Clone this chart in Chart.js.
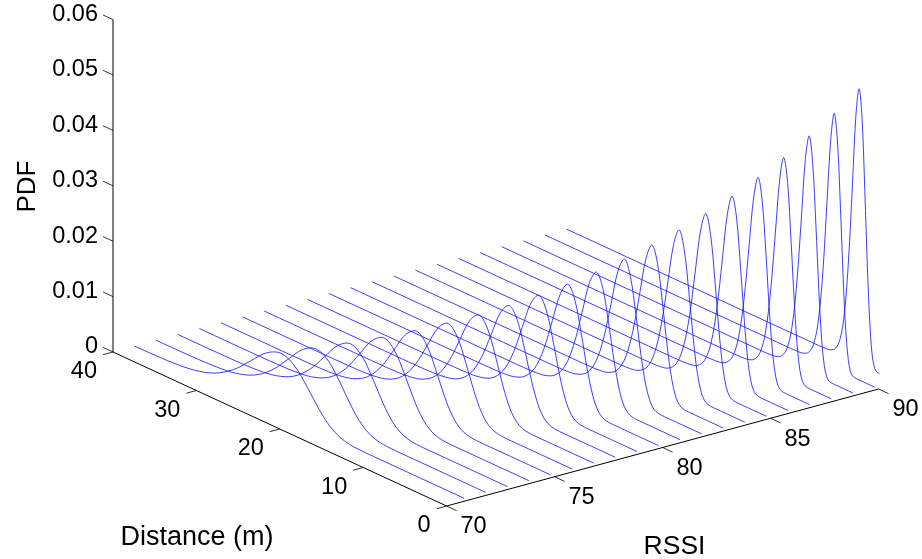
<!DOCTYPE html>
<html>
<head>
<meta charset="utf-8">
<title>PDF of distance per RSSI</title>
<script src="https://cdn.jsdelivr.net/npm/chart.js@4"></script>
<style>
  html, body { margin: 0; padding: 0; background: #fff; }
  #wrap { width: 922px; height: 559px; }
</style>
</head>
<body>
<div id="wrap"><canvas id="chart" width="922" height="559"></canvas></div>
<script>
// values
const pdfTicks = [0, 0.01, 0.02, 0.03, 0.04, 0.05, 0.06];
const pdfTickLabels = ['0', '0.01', '0.02', '0.03', '0.04', '0.05', '0.06'];
const distanceTicks = [0, 10, 20, 30, 40];
const rssiTicks = [70, 75, 80, 85, 90];
const rssiLevels = [71, 72, 73, 74, 75, 76, 77, 78, 79, 80, 81, 82, 83, 84, 85, 86, 87, 88, 89, 90, 91];
const distances = [40, 38.18, 35.38, 32.79, 30.4, 28.18, 26.12, 24.22, 22.45, 20.81, 19.29, 17.88, 16.58, 15.37, 14.25, 13.21, 12.24, 11.35, 10.52, 9.75, 9.04, 8.38, 7.77, 7.2, 6.67, 6.19, 5.73, 5.32, 4.93, 4.57, 4.24, 3.93, 3.64, 3.38, 3.13, 2.9, 2.69, 2.49, 0.5];

const pdf71 = [0.00001,0.00004,0.00019,0.00066,0.00181,0.00397,0.00696,0.00975,0.01091,0.00975,0.00696,0.00397,0.00181,0.00066,0.00019,0.00004,0.00001,0,0,0,0,0,0,0,0,0,0,0,0,0,0,0,0,0,0,0,0,0,0];
const pdf72 = [0,0.00001,0.00005,0.00021,0.00071,0.00195,0.00429,0.00751,0.01052,0.01177,0.01052,0.00751,0.00429,0.00195,0.00071,0.00021,0.00005,0.00001,0,0,0,0,0,0,0,0,0,0,0,0,0,0,0,0,0,0,0,0,0];
const pdf73 = [0,0,0.00001,0.00005,0.00022,0.00077,0.00211,0.00463,0.00811,0.01135,0.0127,0.01135,0.00811,0.00463,0.00211,0.00077,0.00022,0.00005,0.00001,0,0,0,0,0,0,0,0,0,0,0,0,0,0,0,0,0,0,0,0];
const pdf74 = [0,0,0,0.00001,0.00006,0.00024,0.00083,0.00227,0.00499,0.00874,0.01225,0.0137,0.01225,0.00874,0.00499,0.00227,0.00083,0.00024,0.00006,0.00001,0,0,0,0,0,0,0,0,0,0,0,0,0,0,0,0,0,0,0];
const pdf75 = [0,0,0,0,0.00001,0.00006,0.00026,0.00089,0.00245,0.00538,0.00943,0.01321,0.01478,0.01321,0.00943,0.00538,0.00245,0.00089,0.00026,0.00006,0.00001,0,0,0,0,0,0,0,0,0,0,0,0,0,0,0,0,0,0];
const pdf76 = [0,0,0,0,0,0.00001,0.00007,0.00028,0.00096,0.00265,0.00581,0.01017,0.01425,0.01594,0.01425,0.01017,0.00581,0.00265,0.00096,0.00028,0.00007,0.00001,0,0,0,0,0,0,0,0,0,0,0,0,0,0,0,0,0];
const pdf77 = [0,0,0,0,0,0,0.00001,0.00007,0.0003,0.00104,0.00285,0.00626,0.01097,0.01537,0.01719,0.01537,0.01097,0.00626,0.00285,0.00104,0.0003,0.00007,0.00001,0,0,0,0,0,0,0,0,0,0,0,0,0,0,0,0];
const pdf78 = [0,0,0,0,0,0,0,0.00001,0.00008,0.00033,0.00112,0.00308,0.00676,0.01184,0.01658,0.01855,0.01658,0.01184,0.00676,0.00308,0.00112,0.00033,0.00008,0.00001,0,0,0,0,0,0,0,0,0,0,0,0,0,0,0];
const pdf79 = [0,0,0,0,0,0,0,0,0.00002,0.00008,0.00035,0.00121,0.00332,0.00729,0.01278,0.0179,0.02002,0.0179,0.01278,0.00729,0.00332,0.00121,0.00035,0.00008,0.00002,0,0,0,0,0,0,0,0,0,0,0,0,0,0];
const pdf80 = [0,0,0,0,0,0,0,0,0,0.00002,0.00009,0.00038,0.00131,0.00358,0.00786,0.01378,0.0193,0.02159,0.0193,0.01378,0.00786,0.00358,0.00131,0.00038,0.00009,0.00002,0,0,0,0,0,0,0,0,0,0,0,0,0];
const pdf81 = [0,0,0,0,0,0,0,0,0,0,0.00002,0.0001,0.00041,0.00141,0.00387,0.00848,0.01487,0.02082,0.02329,0.02082,0.01487,0.00848,0.00387,0.00141,0.00041,0.0001,0.00002,0,0,0,0,0,0,0,0,0,0,0,0];
const pdf82 = [0,0,0,0,0,0,0,0,0,0,0,0.00002,0.0001,0.00044,0.00152,0.00417,0.00915,0.01604,0.02246,0.02513,0.02246,0.01604,0.00915,0.00417,0.00152,0.00044,0.0001,0.00002,0,0,0,0,0,0,0,0,0,0,0];
const pdf83 = [0,0,0,0,0,0,0,0,0,0,0,0,0.00002,0.00011,0.00048,0.00164,0.0045,0.00987,0.0173,0.02422,0.0271,0.02422,0.0173,0.00987,0.0045,0.00164,0.00048,0.00011,0.00002,0,0,0,0,0,0,0,0,0,0];
const pdf84 = [0,0,0,0,0,0,0,0,0,0,0,0,0,0.00002,0.00012,0.00051,0.00177,0.00485,0.01065,0.01866,0.02614,0.02924,0.02614,0.01866,0.01065,0.00485,0.00177,0.00051,0.00012,0.00002,0,0,0,0,0,0,0,0,0];
const pdf85 = [0,0,0,0,0,0,0,0,0,0,0,0,0,0,0.00003,0.00013,0.00055,0.00191,0.00523,0.01148,0.02013,0.02818,0.03153,0.02818,0.02013,0.01148,0.00523,0.00191,0.00055,0.00013,0.00003,0,0,0,0,0,0,0,0];
const pdf86 = [0,0,0,0,0,0,0,0,0,0,0,0,0,0,0,0.00003,0.00014,0.0006,0.00206,0.00565,0.01239,0.02172,0.03042,0.03403,0.03042,0.02172,0.01239,0.00565,0.00206,0.0006,0.00014,0.00003,0,0,0,0,0,0,0];
const pdf87 = [0,0,0,0,0,0,0,0,0,0,0,0,0,0,0,0,0.00003,0.00015,0.00065,0.00222,0.0061,0.01338,0.02344,0.03283,0.03673,0.03283,0.02344,0.01338,0.0061,0.00222,0.00065,0.00015,0.00003,0,0,0,0,0,0];
const pdf88 = [0,0,0,0,0,0,0,0,0,0,0,0,0,0,0,0,0,0.00003,0.00016,0.0007,0.00239,0.00657,0.01442,0.02526,0.03538,0.03958,0.03538,0.02526,0.01442,0.00657,0.00239,0.0007,0.00016,0.00003,0,0,0,0,0];
const pdf89 = [0,0,0,0,0,0,0,0,0,0,0,0,0,0,0,0,0,0,0.00003,0.00018,0.00075,0.00259,0.0071,0.01557,0.02729,0.03822,0.04276,0.03822,0.02729,0.01557,0.0071,0.00259,0.00075,0.00018,0.00003,0,0,0,0];
const pdf90 = [0,0,0,0,0,0,0,0,0,0,0,0,0,0,0,0,0,0,0,0.00004,0.00019,0.00081,0.00279,0.00764,0.01677,0.02939,0.04116,0.04605,0.04116,0.02939,0.01677,0.00764,0.00279,0.00081,0.00019,0.00004,0,0,0];
const pdf91 = [0,0,0,0,0,0,0,0,0,0,0,0,0,0,0,0,0,0,0,0,0.00004,0.0002,0.00087,0.00301,0.00825,0.0181,0.03172,0.04443,0.0497,0.04443,0.03172,0.0181,0.00825,0.00301,0.00087,0.0002,0.00004,0];
const pdfByRssi = [pdf71, pdf72, pdf73, pdf74, pdf75, pdf76, pdf77, pdf78, pdf79, pdf80, pdf81, pdf82, pdf83, pdf84, pdf85, pdf86, pdf87, pdf88, pdf89, pdf90, pdf91];

// 3D view of the box, in canvas pixels per data unit
function project(rssi, distance, pdf) {
  return {
    x: 113 + 21.6 * (rssi - 70) + 8.34 * (40 - distance),
    y: 352 - 5.85 * (rssi - 70) + 3.85 * (40 - distance) - 5540 * pdf
  };
}

function segment(a, b, color, width) {
  return {
    data: [project(a[0], a[1], a[2]), project(b[0], b[1], b[2])],
    borderColor: color,
    borderWidth: width,
    pointRadius: 0,
    showLine: true
  };
}

const datasets = [];

// curves
pdfByRssi.forEach((values, i) => {
  datasets.push({
    data: values.map((v, k) => project(rssiLevels[i], distances[k], v)),
    borderColor: '#1a1aff',
    borderWidth: 0.85,
    pointRadius: 0,
    showLine: true,
    tension: 0.35
  });
});

// box edges
datasets.push(segment([70, 40, 0], [70, 40, 0.06], '#000000', 1));
datasets.push(segment([70, 40, 0], [70, 0, 0], '#000000', 1));
datasets.push(segment([70, 0, 0], [90, 0, 0], '#000000', 1));

// tick marks
pdfTicks.forEach(p => datasets.push(segment([70, 40, p], [70, 41.2, p], '#000000', 0.8)));
distanceTicks.forEach(d => datasets.push(segment([70, d, 0], [69.54, d, 0], '#000000', 0.8)));
rssiTicks.forEach(r => datasets.push(segment([r, 0, 0], [r, -1.2, 0], '#000000', 0.8)));

// tick labels and axis titles go on top of the chart
const labelsPlugin = {
  id: 'boxLabels',
  afterDraw(chart) {
    const ctx = chart.ctx;
    const sx = chart.scales.x;
    const sy = chart.scales.y;
    const at = (r, d, p) => {
      const q = project(r, d, p);
      return { x: sx.getPixelForValue(q.x), y: sy.getPixelForValue(q.y) };
    };
    ctx.save();
    ctx.fillStyle = '#000';
    ctx.textBaseline = 'middle';
    ctx.font = '23.5px "Liberation Sans", Arial, sans-serif';

    ctx.textAlign = 'right';
    pdfTicks.forEach((p, i) => {
      const q = at(70, 40, p);
      ctx.fillText(pdfTickLabels[i], q.x - 15, q.y - 5);
    });
    distanceTicks.forEach(d => {
      const q = at(70, d, 0);
      ctx.fillText(String(d), q.x - 16, q.y + 20);
    });
    ctx.textAlign = 'center';
    rssiTicks.forEach(r => {
      const q = at(r, 0, 0);
      ctx.fillText(String(r), q.x + 27, q.y + 21);
    });

    ctx.textBaseline = 'alphabetic';
    ctx.font = '27px "Liberation Sans", Arial, sans-serif';
    ctx.fillText('Distance (m)', 197, 545);
    ctx.font = '26.5px "Liberation Sans", Arial, sans-serif';
    ctx.fillText('RSSI', 674.5, 554);
    ctx.font = '26px "Liberation Sans", Arial, sans-serif';
    ctx.translate(35, 186.5);
    ctx.rotate(-Math.PI / 2);
    ctx.fillText('PDF', 0, 0);
    ctx.restore();
  }
};

new Chart(document.getElementById('chart'), {
  type: 'scatter',
  data: { datasets },
  options: {
    responsive: false,
    animation: false,
    layout: { padding: 0 },
    scales: {
      x: { type: 'linear', min: 0, max: 922, display: false },
      y: { type: 'linear', min: 0, max: 559, reverse: true, display: false }
    },
    plugins: { legend: { display: false }, tooltip: { enabled: false } }
  },
  plugins: [labelsPlugin]
});
</script>
</body>
</html>
